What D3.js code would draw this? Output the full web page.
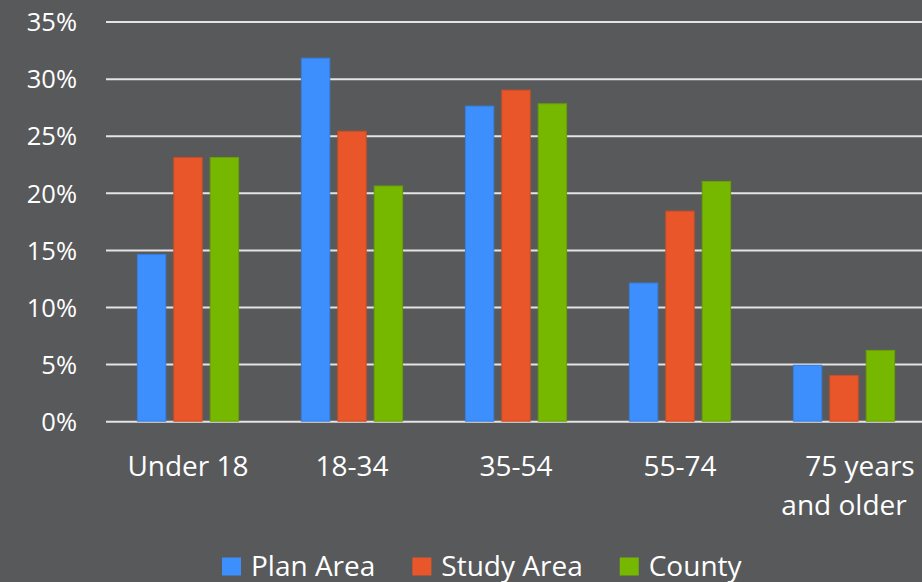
<!DOCTYPE html>
<html>
<head>
<meta charset="utf-8">
<script src="https://cdn.jsdelivr.net/npm/d3@7"></script>
<style>
  html, body { margin: 0; padding: 0; background: #58595b; }
  svg { display: block; }
  text { font-family: "Open Sans", "Noto Sans", sans-serif; fill: #ffffff; }
</style>
</head>
<body>
<svg id="chart" width="922" height="582"></svg>
<script>
// Age groups (multi-line labels are split into lines)
const categories = ["Under 18", "18-34", "35-54", "55-74", "75 years and older"];
const categoryLines = [["Under 18"], ["18-34"], ["35-54"], ["55-74"], ["75 years", "and older"]];

// Share of population by age group, percent
const seriesNames = ["Plan Area", "Study Area", "County"];
const planArea  = [14.6, 31.8, 27.6, 12.1, 4.9];
const studyArea = [23.1, 25.4, 29.0, 18.4, 4.0];
const county    = [23.1, 20.6, 27.8, 21.0, 6.2];

const yTicks = [0, 5, 10, 15, 20, 25, 30, 35];
const colors = ["#3d8ffd", "#e85629", "#76b800"];

const series = [planArea, studyArea, county];

const svg = d3.select("#chart");
const W = 922, H = 582;

svg.append("rect").attr("width", W).attr("height", H).attr("fill", "#58595b");

const x = d3.scaleBand().domain(categories).range([106, 926]).paddingInner(0).paddingOuter(0);
const inner = d3.scaleBand().domain(seriesNames)
  .range([31.4, x.bandwidth() - 31.4]).paddingInner(0.22).paddingOuter(0);
const y = d3.scaleLinear().domain([0, 35]).range([421.2, 21.6]);

// Horizontal gridlines
const yAxis = d3.axisLeft(y).tickValues(yTicks).tickSize(-(W - 106)).tickFormat(d => d + "%").tickPadding(29);
const gy = svg.append("g").attr("transform", "translate(106,0)").call(yAxis);
gy.select(".domain").remove();
gy.selectAll(".tick line").attr("stroke", "#e4e4e4").attr("stroke-width", 2);
gy.selectAll(".tick text")
  .attr("fill", "#ffffff")
  .style("font-family", '"Open Sans", "Noto Sans", sans-serif')
  .style("font-size", "25.5px")
  .attr("dy", "0.36em");

// Bars
const groups = svg.append("g").selectAll("g")
  .data(categories)
  .join("g")
  .attr("transform", d => `translate(${x(d)},0)`);

groups.selectAll("rect")
  .data((d, i) => seriesNames.map((s, j) => ({ s, j, v: series[j][i] })))
  .join("rect")
  .attr("x", d => inner(d.s))
  .attr("width", inner.bandwidth())
  .attr("y", d => y(d.v))
  .attr("height", d => y(0) - y(d.v))
  .attr("fill", d => colors[d.j])
  .attr("stroke", d => d3.color(colors[d.j]).darker(0.35))
  .attr("stroke-width", 1);

// Category labels
const labelG = svg.append("g");
categories.forEach((c, i) => {
  const lines = categoryLines[i];
  const cx = x(c) + x.bandwidth() / 2;
  const t = labelG.append("text")
    .attr("text-anchor", "middle")
    .style("font-size", "28px");
  lines.forEach((ln, k) => {
    t.append("tspan")
      .attr("x", cx + (lines.length > 1 && k === 0 ? 16 : 0))
      .attr("y", 475.5 + k * 39)
      .text(ln);
  });
});

// Legend
const legend = svg.append("g");
let lx = 222;
seriesNames.forEach((name, j) => {
  legend.append("rect")
    .attr("x", lx).attr("y", 557.5)
    .attr("width", 19).attr("height", 18)
    .attr("fill", colors[j]);
  const t = legend.append("text")
    .attr("x", lx + 29).attr("y", 575.5)
    .style("font-size", "28px")
    .text(name);
  lx += 29 + t.node().getComputedTextLength() + 37;
});
</script>
</body>
</html>
